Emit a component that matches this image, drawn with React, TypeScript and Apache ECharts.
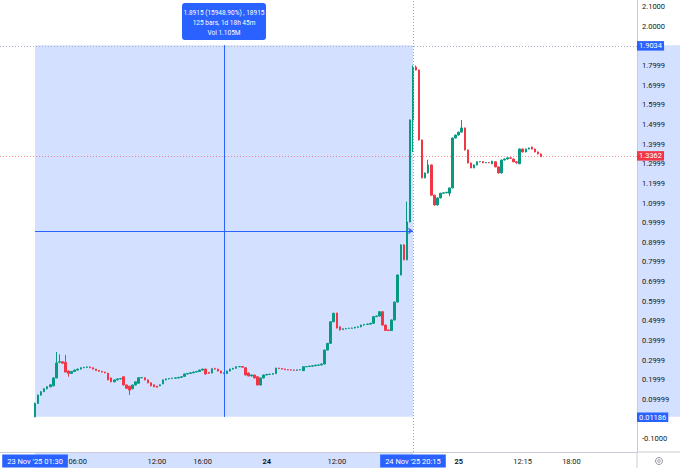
import { useEffect, useRef } from 'react'
import * as echarts from 'echarts'

// ─── colours ───
const UP = '#089981'
const DOWN = '#f23645'
const BLUE = '#2962ff'
const TINT = 'rgba(41,98,255,0.2)'
const TEXT = '#131722'
const FRAME = '#c9ccd4'
const FONT = 'Roboto'

// ─── data ───
// slots on the category axis: blank ones before the first bar and after the last
const LEAD = 11
const SLOTS = 209

// [open, close, low, high]
const candles: [number, number, number, number][] = [
  [0.012, 0.080, 0.010, 0.085], [0.080, 0.123, 0.078, 0.125], [0.123, 0.140, 0.120, 0.143],
  [0.140, 0.155, 0.138, 0.158], [0.155, 0.165, 0.152, 0.168], [0.165, 0.175, 0.162, 0.178],
  [0.170, 0.210, 0.168, 0.212], [0.210, 0.286, 0.208, 0.342], [0.290, 0.292, 0.285, 0.330],
  [0.292, 0.285, 0.282, 0.295], [0.290, 0.240, 0.238, 0.327], [0.245, 0.233, 0.216, 0.248],
  [0.233, 0.243, 0.230, 0.245], [0.243, 0.250, 0.240, 0.252], [0.250, 0.255, 0.248, 0.257],
  [0.255, 0.262, 0.253, 0.264], [0.262, 0.264, 0.260, 0.266], [0.264, 0.266, 0.262, 0.268],
  [0.266, 0.262, 0.260, 0.268], [0.262, 0.255, 0.253, 0.263], [0.255, 0.248, 0.246, 0.256],
  [0.248, 0.244, 0.242, 0.249], [0.244, 0.240, 0.238, 0.245], [0.240, 0.236, 0.234, 0.241],
  [0.234, 0.200, 0.198, 0.236], [0.210, 0.190, 0.188, 0.212], [0.190, 0.200, 0.188, 0.202],
  [0.200, 0.205, 0.198, 0.207], [0.205, 0.207, 0.203, 0.209], [0.216, 0.174, 0.172, 0.218],
  [0.174, 0.157, 0.155, 0.176], [0.168, 0.148, 0.123, 0.170], [0.155, 0.174, 0.152, 0.176],
  [0.174, 0.190, 0.172, 0.192], [0.183, 0.211, 0.181, 0.213], [0.211, 0.212, 0.209, 0.214],
  [0.211, 0.200, 0.198, 0.213], [0.200, 0.185, 0.183, 0.202], [0.185, 0.170, 0.168, 0.187],
  [0.175, 0.165, 0.163, 0.177], [0.168, 0.163, 0.161, 0.170], [0.170, 0.175, 0.168, 0.177],
  [0.180, 0.200, 0.178, 0.202], [0.200, 0.205, 0.198, 0.207], [0.205, 0.207, 0.203, 0.209],
  [0.207, 0.209, 0.205, 0.211], [0.209, 0.210, 0.207, 0.212], [0.210, 0.213, 0.208, 0.215],
  [0.213, 0.216, 0.211, 0.218], [0.218, 0.230, 0.216, 0.232], [0.230, 0.233, 0.228, 0.235],
  [0.233, 0.236, 0.231, 0.238], [0.236, 0.240, 0.234, 0.242], [0.240, 0.243, 0.238, 0.245],
  [0.243, 0.250, 0.241, 0.252], [0.250, 0.255, 0.248, 0.257], [0.255, 0.230, 0.228, 0.257],
  [0.238, 0.234, 0.232, 0.240], [0.235, 0.257, 0.233, 0.259], [0.257, 0.255, 0.253, 0.262],
  [0.255, 0.245, 0.243, 0.257], [0.245, 0.235, 0.233, 0.247], [0.235, 0.232, 0.230, 0.237],
  [0.232, 0.245, 0.230, 0.247], [0.245, 0.255, 0.243, 0.257], [0.255, 0.259, 0.253, 0.261],
  [0.259, 0.267, 0.257, 0.269], [0.267, 0.268, 0.265, 0.270], [0.268, 0.265, 0.263, 0.270],
  [0.262, 0.225, 0.223, 0.264], [0.235, 0.220, 0.218, 0.237], [0.220, 0.225, 0.218, 0.227],
  [0.225, 0.210, 0.208, 0.227], [0.216, 0.174, 0.172, 0.218], [0.174, 0.210, 0.172, 0.212],
  [0.210, 0.225, 0.208, 0.227], [0.225, 0.228, 0.223, 0.230], [0.228, 0.229, 0.226, 0.231],
  [0.229, 0.232, 0.227, 0.234], [0.232, 0.260, 0.230, 0.262], [0.260, 0.258, 0.256, 0.262],
  [0.258, 0.255, 0.253, 0.260], [0.255, 0.252, 0.250, 0.257], [0.252, 0.251, 0.249, 0.254],
  [0.251, 0.250, 0.248, 0.253], [0.250, 0.249, 0.247, 0.252], [0.249, 0.251, 0.247, 0.253],
  [0.251, 0.252, 0.249, 0.254], [0.247, 0.267, 0.245, 0.269], [0.267, 0.268, 0.265, 0.270],
  [0.268, 0.270, 0.266, 0.272], [0.270, 0.272, 0.268, 0.274], [0.272, 0.275, 0.270, 0.277],
  [0.275, 0.276, 0.273, 0.278], [0.276, 0.281, 0.274, 0.283], [0.281, 0.352, 0.279, 0.354],
  [0.352, 0.386, 0.350, 0.388], [0.386, 0.496, 0.384, 0.498], [0.496, 0.539, 0.494, 0.542],
  [0.540, 0.464, 0.462, 0.542], [0.470, 0.454, 0.452, 0.472], [0.456, 0.460, 0.454, 0.462],
  [0.460, 0.462, 0.458, 0.464], [0.462, 0.463, 0.460, 0.465], [0.463, 0.464, 0.461, 0.466],
  [0.464, 0.468, 0.462, 0.470], [0.468, 0.470, 0.466, 0.472], [0.470, 0.479, 0.468, 0.481],
  [0.479, 0.482, 0.477, 0.484], [0.482, 0.484, 0.480, 0.486], [0.484, 0.488, 0.482, 0.490],
  [0.488, 0.522, 0.486, 0.524], [0.522, 0.525, 0.520, 0.527], [0.525, 0.547, 0.523, 0.549],
  [0.547, 0.479, 0.477, 0.549], [0.479, 0.452, 0.450, 0.481], [0.454, 0.451, 0.449, 0.456],
  [0.451, 0.505, 0.449, 0.507], [0.505, 0.596, 0.503, 0.598], [0.596, 0.734, 0.594, 0.736],
  [0.734, 0.887, 0.732, 0.890], [0.887, 0.811, 0.809, 0.890], [0.811, 1.004, 0.809, 1.107],
  [1.004, 1.523, 1.002, 1.525], [1.523, 1.792, 1.360, 1.800], [1.792, 1.777, 1.775, 1.800],
  [1.777, 1.421, 1.419, 1.779], [1.421, 1.228, 1.226, 1.423], [1.228, 1.253, 1.226, 1.255],
  [1.253, 1.294, 1.250, 1.320], [1.294, 1.140, 1.138, 1.296], [1.140, 1.090, 1.088, 1.142],
  [1.090, 1.126, 1.088, 1.128], [1.126, 1.150, 1.124, 1.152], [1.150, 1.152, 1.148, 1.154],
  [1.152, 1.155, 1.150, 1.157], [1.150, 1.177, 1.135, 1.179], [1.177, 1.431, 1.175, 1.433],
  [1.431, 1.446, 1.429, 1.448], [1.446, 1.461, 1.444, 1.463], [1.461, 1.482, 1.459, 1.523],
  [1.482, 1.370, 1.368, 1.484], [1.370, 1.304, 1.302, 1.372], [1.304, 1.279, 1.277, 1.306],
  [1.279, 1.294, 1.277, 1.296], [1.294, 1.310, 1.292, 1.312], [1.310, 1.311, 1.308, 1.313],
  [1.311, 1.305, 1.303, 1.313], [1.305, 1.306, 1.303, 1.308], [1.306, 1.305, 1.303, 1.308],
  [1.300, 1.313, 1.298, 1.315], [1.310, 1.284, 1.282, 1.312], [1.284, 1.253, 1.251, 1.286],
  [1.253, 1.319, 1.251, 1.321], [1.319, 1.324, 1.317, 1.326], [1.324, 1.330, 1.322, 1.332],
  [1.330, 1.328, 1.326, 1.332], [1.324, 1.310, 1.308, 1.326], [1.310, 1.305, 1.300, 1.312],
  [1.300, 1.375, 1.298, 1.377], [1.375, 1.360, 1.358, 1.377], [1.360, 1.375, 1.358, 1.377],
  [1.375, 1.380, 1.373, 1.382], [1.385, 1.375, 1.373, 1.387], [1.375, 1.360, 1.358, 1.377],
  [1.360, 1.350, 1.348, 1.362], [1.350, 1.336, 1.334, 1.352],
]

// time ticks, by bar index
const xTicks: [number, string][] = [
  [0, "23 Nov '25 01:30"],
  [14, '06:00'],
  [40, '12:00'],
  [55, '16:00'],
  [76, '24'],
  [99, '12:00'],
  [124, "24 Nov '25 20:15"],
  [139, '25'],
  [160, '12:15'],
  [176, '18:00'],
]
const xTicksMarked = [0, 124]
const xTicksBold = [76, 139]

// price scale
const yTickValues = [2.1, 2.0, 1.8, 1.7, 1.6, 1.5, 1.4, 1.3, 1.2, 1.1, 1.0, 0.9, 0.8, 0.7, 0.6, 0.5, 0.4, 0.3, 0.2, 0.1, -0.1]
const yTickText = ['2.1000', '2.0000', '1.7999', '1.6999', '1.5999', '1.4999', '1.3999', '1.2999', '1.1999', '1.0999',
  '0.9999', '0.8999', '0.7999', '0.6999', '0.5999', '0.4999', '0.3999', '0.2999', '0.1999', '0.09999', '-0.1000']

// date & price range drawing
const rangeFrom = 0
const rangeTo = 124
const rangeLow = 0.01186
const rangeHigh = 1.9034
const lastPrice = 1.3362
const crossBar = 62
const crossPrice = 0.958
const rangeInfo = ['1.8915 (15948.90%) , 18915', '125 bars, 1d 18h 45m', 'Vol 1.105M']

export default function App() {
  const ref = useRef<HTMLDivElement>(null)

  useEffect(() => {
    document.body.style.margin = '0'
    if (!ref.current) return
    const chart = echarts.init(ref.current, undefined, { renderer: 'svg' })

    const slots = Array.from({ length: SLOTS }, (_, i) => String(i))
    const marked = new Set(xTicksMarked)
    // the range's own start/end labels are drawn as badges below, not as axis ticks
    const tickMap = new Map(xTicks.filter(([b]) => !marked.has(b)).map(([b, t]) => [b + LEAD, t]))
    const bold = new Set(xTicksBold.map(b => b + LEAD))
    const seriesData = [...Array.from({ length: LEAD }, () => ['-', '-', '-', '-']), ...candles]

    const badge = (bg: string) => ({
      show: true, position: 'end' as const, distance: 0,
      backgroundColor: bg, color: '#fff', padding: [1, 2, 0, 2],
      fontFamily: FONT, fontSize: 7.5, lineHeight: 8.5,
    })

    chart.setOption({
      animation: false,
      grid: { left: 0, right: 43, top: 0, bottom: 16, containLabel: false, outerBoundsMode: 'none' },
      xAxis: {
        type: 'category',
        data: slots,
        axisLine: { onZero: false, lineStyle: { color: FRAME } },
        axisTick: { show: false },
        splitLine: { show: false },
        axisLabel: {
          interval: (i: number) => tickMap.has(i),
          hideOverlap: false,
          margin: 2,
          formatter: (_v: string, i: number) => {
            const t = tickMap.get(i)
            if (!t) return ''
            return bold.has(i) ? `{b|${t}}` : `{n|${t}}`
          },
          rich: {
            n: { color: TEXT, fontFamily: FONT, fontSize: 7.5, padding: [3, 0] },
            b: { color: TEXT, fontFamily: FONT, fontSize: 7.5, fontWeight: 'bold', padding: [3, 0] },
          },
        },
      },
      yAxis: {
        type: 'value',
        position: 'right',
        min: -0.1669,
        max: 2.1333,
        axisLine: { show: true, lineStyle: { color: FRAME } },
        axisTick: { show: false },
        splitLine: { show: false },
        axisLabel: {
          customValues: yTickValues,
          margin: 5,
          color: TEXT,
          fontFamily: FONT,
          fontSize: 7.5,
          formatter: (v: number) => {
            const k = yTickValues.findIndex(t => Math.abs(t - v) < 1e-6)
            return k >= 0 ? yTickText[k] : ''
          },
        },
      },
      series: [{
        type: 'candlestick',
        data: seriesData,
        barWidth: 2,
        itemStyle: { color: UP, color0: DOWN, borderColor: UP, borderColor0: DOWN, borderWidth: 1 },
        markArea: {
          silent: true,
          itemStyle: { color: TINT },
          data: [[
            { xAxis: rangeFrom + LEAD, yAxis: rangeHigh },
            { xAxis: rangeTo + LEAD, yAxis: rangeLow },
          ]],
        },
        markLine: {
          silent: true,
          symbol: ['none', 'none'],
          label: { show: false },
          data: [
            { yAxis: rangeHigh, lineStyle: { color: '#a9b4cc', type: [1, 2], width: 1 }, label: { ...badge(BLUE), formatter: '1.9034' } },
            { yAxis: lastPrice, lineStyle: { color: 'rgba(242,54,69,0.55)', type: [1, 2], width: 1 }, label: { ...badge(DOWN), formatter: '1.3362' } },
            { yAxis: rangeLow, lineStyle: { color: 'rgba(0,0,0,0)', width: 1 }, label: { ...badge(BLUE), formatter: '0.01186' } },
            { xAxis: rangeTo + LEAD, lineStyle: { color: '#8fa6ef', type: [1, 2], width: 1 } },
            [
              { xAxis: crossBar + LEAD, yAxis: rangeHigh, lineStyle: { color: BLUE, type: 'solid', width: 1 } },
              { xAxis: crossBar + LEAD, yAxis: rangeLow },
            ],
            [
              { xAxis: rangeFrom + LEAD, yAxis: crossPrice, lineStyle: { color: BLUE, type: 'solid', width: 1 } },
              { xAxis: rangeTo + LEAD, yAxis: crossPrice, symbol: 'arrow', symbolSize: 5 },
            ],
          ],
        },
      }],
    })

    // overlays placed from the data: tint on the axes, range badges, info box, frame bits
    const toPx = (bar: number, price: number) =>
      chart.convertToPixel({ gridIndex: 0 }, [bar + LEAD, price]) as number[]
    const [x0, yHi] = toPx(rangeFrom, rangeHigh)
    const [x1, yLo] = toPx(rangeTo, rangeLow)
    const [xc] = toPx(crossBar, crossPrice)
    const W = chart.getWidth()
    const H = chart.getHeight()
    const gridRight = W - 43
    const gridBottom = H - 16
    const boxW = 84
    const boxH = 37

    const rangeBadges = xTicks.filter(([b]) => marked.has(b)).map(([b, t]) => {
      const [bx] = toPx(b, 0)
      const atEdge = bx < 34
      return {
        type: 'text', z: 50, silent: true,
        style: {
          x: atEdge ? 0 : bx, y: gridBottom + 9, text: t, fill: '#fff',
          font: `7.5px ${FONT}`, textAlign: atEdge ? 'left' : 'center', textVerticalAlign: 'middle',
          backgroundColor: BLUE, padding: [3, 5, 2, 5],
        },
      }
    })

    chart.setOption({
      graphic: [
        { type: 'rect', z: -10, silent: true, shape: { x: x0, y: gridBottom, width: x1 - x0, height: H - gridBottom }, style: { fill: TINT } },
        { type: 'rect', z: -10, silent: true, shape: { x: gridRight, y: yHi, width: W - gridRight, height: yLo - yHi }, style: { fill: TINT } },
        { type: 'line', silent: true, shape: { x1: gridRight, y1: gridBottom, x2: W, y2: gridBottom }, style: { stroke: FRAME, lineWidth: 1 } },
        { type: 'line', silent: true, shape: { x1: gridRight, y1: gridBottom, x2: gridRight, y2: H }, style: { stroke: FRAME, lineWidth: 1 } },
        ...rangeBadges,
        {
          type: 'group', z: 100, x: xc - boxW / 2, y: 3,
          children: [
            { type: 'rect', shape: { x: 0, y: 0, width: boxW, height: boxH, r: 3 }, style: { fill: BLUE } },
            ...rangeInfo.map((t, i) => ({
              type: 'text',
              style: { x: boxW / 2, y: 9.5 + i * 10.2, text: t, fill: '#fff', font: `6.5px ${FONT}`, textAlign: 'center', textVerticalAlign: 'middle' },
            })),
          ],
        },
        { type: 'circle', silent: true, shape: { cx: (gridRight + W) / 2 + 0.5, cy: (gridBottom + H) / 2 + 1, r: 3.5 }, style: { fill: 'none', stroke: '#787b86', lineWidth: 0.8 } },
        { type: 'circle', silent: true, shape: { cx: (gridRight + W) / 2 + 0.5, cy: (gridBottom + H) / 2 + 1, r: 1.3 }, style: { fill: 'none', stroke: '#787b86', lineWidth: 0.8 } },
      ],
    })

    return () => chart.dispose()
  }, [])

  return <div ref={ref} style={{ width: 680, height: 468 }} />
}
